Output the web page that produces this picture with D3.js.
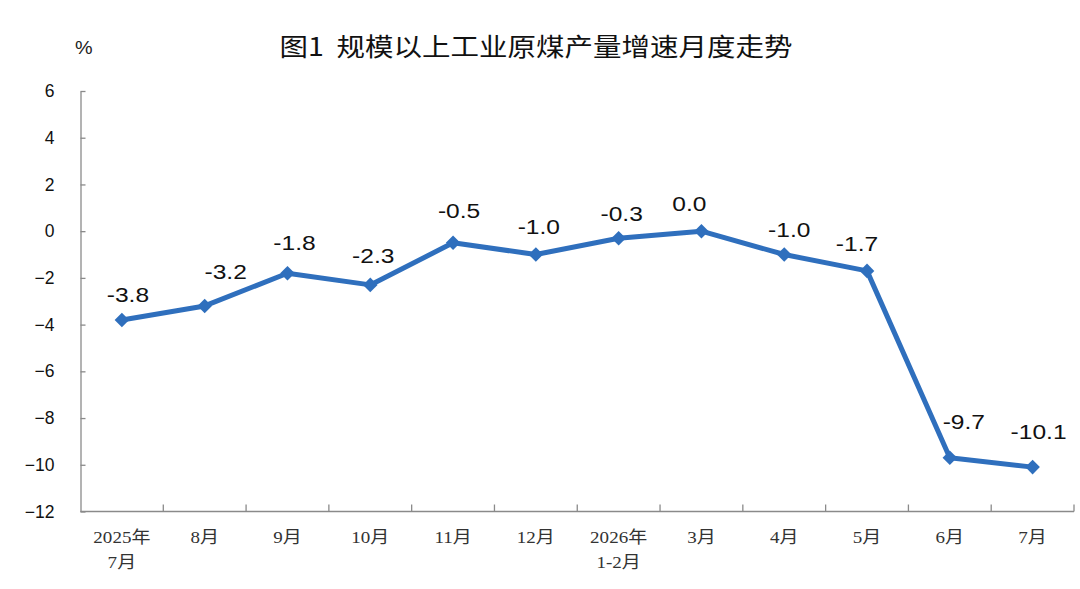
<!DOCTYPE html>
<html><head><meta charset="utf-8">
<script src="https://cdn.jsdelivr.net/npm/d3@7/dist/d3.min.js"></script>
<style>body{margin:0;background:#fff}svg{display:block}</style>
</head><body>
<svg id="c" width="1080" height="589"></svg>
<script>
const categories = ["2025年\n7月","8月","9月","10月","11月","12月","2026年\n1-2月","3月","4月","5月","6月","7月"];
const values = [-3.8,-3.2,-1.8,-2.3,-0.5,-1.0,-0.3,0.0,-1.0,-1.7,-9.7,-10.1];
const yTicks = [6,4,2,0,-2,-4,-6,-8,-10,-12];
const title = "图1\u00a0\u00a0规模以上工业原煤产量增速月度走势";
const unit = "%";
// label placement nudges (dx, dy of label centre relative to its point)
const labelDx = [6,21,7,3,6,3,3,-12,5,-10,14,6];
const labelDy = [-25,-34,-31,-29,-32,-28,-25,-28,-25,-27,-36,-36];

const svg = d3.select("#c");
const color = "#2F6FBD";
const axisColor = "#8a8a8a";
const sx = 1.17; // horizontal stretch of the reference text

const x = d3.scaleBand().domain(categories).range([80.5, 1074]).padding(0);
const y = d3.scaleLinear().domain([-12, 6]).range([511.5, 91]);
const cx = d => x(d) + x.bandwidth()/2;

// title & unit
svg.append("text").attr("transform", `translate(536,56) scale(1.14,1)`).attr("text-anchor","middle")
  .attr("font-family","'Noto Sans CJK SC', sans-serif").attr("font-size",25).attr("font-weight",400)
  .attr("fill","#111").text(title);
svg.append("text").attr("transform", `translate(75,54) scale(1.1,1)`)
  .attr("font-family","'Liberation Sans', Arial, sans-serif").attr("font-size",18)
  .attr("fill","#222").text(unit);

// y axis
const yAxis = d3.axisLeft(y).tickValues(yTicks).tickSizeInner(-5).tickSizeOuter(0).tickPadding(26)
  .tickFormat(d3.format("d"));
const gy = svg.append("g").attr("transform","translate(80.5,0)").call(yAxis);
gy.select(".domain").attr("stroke", axisColor).attr("stroke-width",1.3);
gy.selectAll(".tick line").attr("stroke", axisColor).attr("stroke-width",1.3);
gy.selectAll(".tick text").attr("font-family","'Liberation Sans', Arial, sans-serif")
  .attr("font-size",17.5).attr("fill","#111");

// x axis
const gx = svg.append("g").attr("transform",`translate(0,${y(-12)})`);
gx.append("line").attr("x1", x.range()[0]).attr("x2", x.range()[1]).attr("stroke",axisColor).attr("stroke-width",1.3);
const bounds = categories.map(c => x(c)).concat([x.range()[1]]).slice(1);
gx.selectAll("line.tk").data(bounds).join("line").attr("class","tk")
  .attr("x1", d=>d).attr("x2", d=>d).attr("y1", 0).attr("y2", -7)
  .attr("stroke",axisColor).attr("stroke-width",1.3);
categories.forEach(d => {
  d.split("\n").forEach((s,i) => {
    gx.append("text").attr("transform", `translate(${cx(d)},${31 + i*25}) scale(1.12,1)`)
      .attr("text-anchor","middle")
      .attr("font-family","'Liberation Serif', 'Noto Sans CJK SC', serif").attr("font-size",17)
      .attr("fill","#333").text(s);
  });
});

// line
const pts = categories.map((c,i)=>({c, v: values[i], i}));
svg.append("path").datum(pts)
  .attr("d", d3.line().x(d=>cx(d.c)).y(d=>y(d.v)))
  .attr("fill","none").attr("stroke",color).attr("stroke-width",5).attr("stroke-linejoin","round");

// diamonds
svg.selectAll("path.m").data(pts).join("path").attr("class","m")
  .attr("d", d3.symbol(d3.symbolDiamond2, 135)())
  .attr("transform", d=>`translate(${cx(d.c)},${y(d.v)})`)
  .attr("fill", color);

// labels
const fs = 21;
svg.selectAll("text.lb").data(pts).join("text").attr("class","lb")
  .attr("transform", d=>`translate(${cx(d.c) + labelDx[d.i]},${y(d.v) + labelDy[d.i] + 0.358*fs}) scale(${sx},1)`)
  .attr("text-anchor","middle")
  .attr("font-family","'Liberation Sans', Arial, sans-serif").attr("font-size",fs).attr("fill","#111")
  .text(d=>d.v.toFixed(1));
</script>
</body></html>
